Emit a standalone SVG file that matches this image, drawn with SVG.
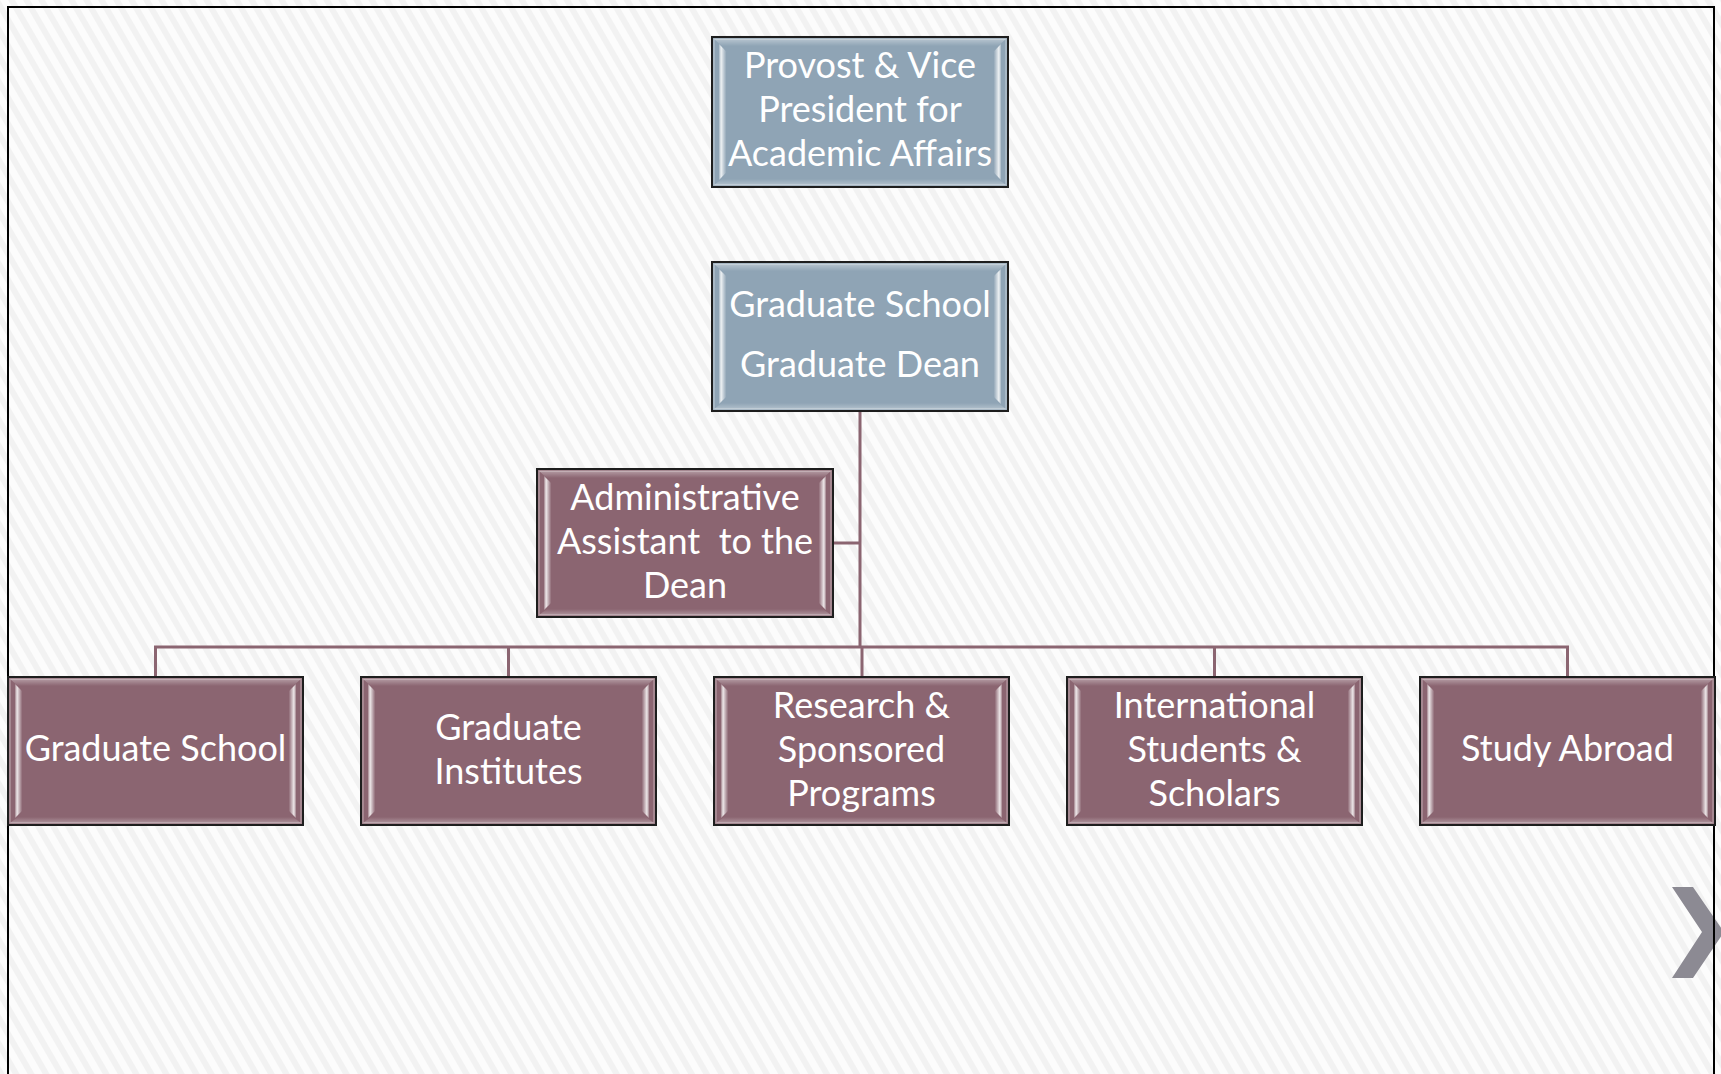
<svg xmlns="http://www.w3.org/2000/svg" xmlns:xlink="http://www.w3.org/1999/xlink" width="1721" height="1074" viewBox="0 0 1721 1074">
<defs>
<pattern id="stripes" patternUnits="userSpaceOnUse" width="13" height="13" patternTransform="rotate(60)">
<rect width="13" height="13" fill="#fcfcfc"/>
<rect width="13" height="6" fill="#f2f2f2"/>
</pattern>
<linearGradient id="hlL" x1="0" y1="0" x2="1" y2="0">
<stop offset="0" stop-color="#ffffff" stop-opacity="0.2"/>
<stop offset="0.3" stop-color="#ffffff" stop-opacity="0.85"/>
<stop offset="1" stop-color="#ffffff" stop-opacity="0.05"/>
</linearGradient>
<linearGradient id="hlR" x1="1" y1="0" x2="0" y2="0">
<stop offset="0" stop-color="#ffffff" stop-opacity="0.2"/>
<stop offset="0.3" stop-color="#ffffff" stop-opacity="0.85"/>
<stop offset="1" stop-color="#ffffff" stop-opacity="0.05"/>
</linearGradient>
<linearGradient id="hlT" x1="0" y1="0" x2="0" y2="1">
<stop offset="0" stop-color="#ffffff" stop-opacity="0.35"/>
<stop offset="1" stop-color="#ffffff" stop-opacity="0"/>
</linearGradient>
<linearGradient id="hlB" x1="0" y1="1" x2="0" y2="0">
<stop offset="0" stop-color="#ffffff" stop-opacity="0.3"/>
<stop offset="1" stop-color="#ffffff" stop-opacity="0"/>
</linearGradient>
<g id="bevel">
<polygon points="2,2 293,2 285,9 10,9" fill="url(#hlT)"/>
<polygon points="2,146 293,146 285,140 10,140" fill="url(#hlB)"/>
<polygon points="7,7 14,14 14,134 7,141" fill="url(#hlL)"/>
<polygon points="288,7 281,14 281,134 288,141" fill="url(#hlR)"/>
<rect x="2" y="2" width="291" height="144" fill="none" stroke="#ffffff" stroke-opacity="0.3" stroke-width="1.5"/>
</g>
<g id="boxM">
<rect x="0" y="0" width="295" height="148" class="mauve"/>
<use xlink:href="#bevel"/>
<rect x="0" y="0" width="295" height="148" fill="none" stroke="#1e1e1e" stroke-width="2"/>
</g>
<g id="boxB">
<rect x="0" y="0" width="295" height="148" class="blue"/>
<use xlink:href="#bevel"/>
<rect x="0" y="0" width="295" height="148" fill="none" stroke="#1e1e1e" stroke-width="2"/>
</g>
</defs>
<style>
.mauve { fill: #8b6571; }
.blue { fill: #8fa4b5; }
.t { font-family: Lato, "Liberation Sans", Arial, sans-serif; font-size: 36px; fill: #ffffff; text-anchor: middle; }
.conn { stroke: #8b6571; stroke-width: 3; fill: none; }
</style>
<rect x="0" y="0" width="1721" height="1074" fill="url(#stripes)"/>
<polygon points="1672,887 1693,887 1724,932 1693,978 1672,978 1702,932" fill="#8c8a93"/>
<rect x="8" y="7" width="1706" height="1080" fill="none" stroke="#000000" stroke-width="2"/>

<g id="connectors">
<line class="conn" x1="860" y1="411" x2="860" y2="648"/>
<line class="conn" x1="833" y1="543" x2="860" y2="543"/>
<polyline class="conn" points="155.5,677 155.5,647 1567.5,647 1567.5,677"/>
<line class="conn" x1="508.5" y1="647" x2="508.5" y2="677"/>
<line class="conn" x1="862" y1="647" x2="862" y2="677"/>
<line class="conn" x1="1214.5" y1="647" x2="1214.5" y2="677"/>
</g>

<g id="provost">
<use xlink:href="#boxB" transform="translate(712,37) scale(1.0034,1.0135)"/>
<text class="t" x="860" y="78">Provost &amp; Vice</text>
<text class="t" x="860" y="122">President for</text>
<text class="t" x="860" y="166">Academic Affairs</text>
</g>

<g id="dean">
<use xlink:href="#boxB" transform="translate(712,262) scale(1.0034,1.0068)"/>
<text class="t" x="860" y="317">Graduate School</text>
<text class="t" x="860" y="377">Graduate Dean</text>
</g>

<g id="admin">
<use xlink:href="#boxM" transform="translate(537,469) scale(1.0034,1)"/>
<text class="t" x="685" y="510">Administrative</text>
<text class="t" x="685" y="554" xml:space="preserve">Assistant  to the</text>
<text class="t" x="685" y="598">Dean</text>
</g>

<g id="gradschool">
<use xlink:href="#boxM" x="8" y="677"/>
<text class="t" x="155.5" y="761">Graduate School</text>
</g>

<g id="institutes">
<use xlink:href="#boxM" x="361" y="677"/>
<text class="t" x="508.5" y="740">Graduate</text>
<text class="t" x="508.5" y="784">Institutes</text>
</g>

<g id="research">
<use xlink:href="#boxM" x="714" y="677"/>
<text class="t" x="861.5" y="718">Research &amp;</text>
<text class="t" x="861.5" y="762">Sponsored</text>
<text class="t" x="861.5" y="806">Programs</text>
</g>

<g id="international">
<use xlink:href="#boxM" x="1067" y="677"/>
<text class="t" x="1214.5" y="718">International</text>
<text class="t" x="1214.5" y="762">Students &amp;</text>
<text class="t" x="1214.5" y="806">Scholars</text>
</g>

<g id="studyabroad">
<use xlink:href="#boxM" x="1420" y="677"/>
<text class="t" x="1567.5" y="761">Study Abroad</text>
</g>
</svg>
